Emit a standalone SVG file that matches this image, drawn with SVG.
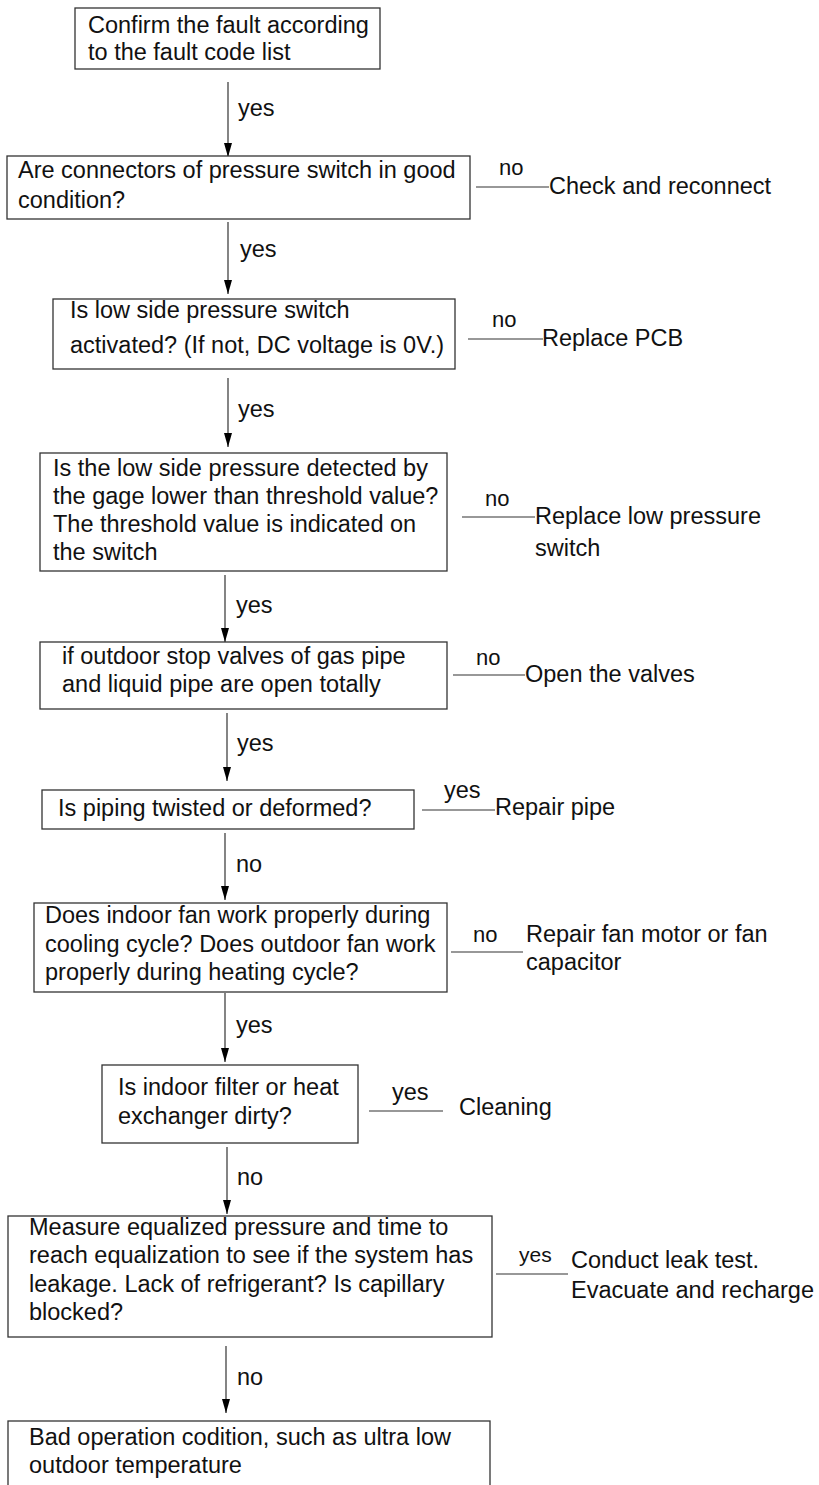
<svg xmlns="http://www.w3.org/2000/svg" width="819" height="1485" viewBox="0 0 819 1485">
<defs>
<marker id="ah" markerUnits="userSpaceOnUse" markerWidth="14" markerHeight="8" refX="14" refY="4" orient="auto">
<path d="M0,0 L14,4 L0,8 z" fill="#000"/>
</marker>
<style>
text{font-family:"Liberation Sans",Arial,sans-serif;font-size:23.5px;fill:#111}
.box{fill:#fff;stroke:#333;stroke-width:1.3}
.flow{stroke:#333;stroke-width:1.2;fill:none;marker-end:url(#ah)}
.side{stroke:#333;stroke-width:1.2;fill:none}
.sl{font-size:22px}
</style>
</defs>
<rect width="819" height="1485" fill="#fff"/>

<g id="connectors">
<line class="flow" x1="228" y1="82" x2="228" y2="157"/>
<text x="238" y="116">yes</text>
<line class="flow" x1="228" y1="222" x2="228" y2="294"/>
<text x="240" y="257">yes</text>
<line class="flow" x1="228" y1="378" x2="228" y2="447"/>
<text x="238" y="417">yes</text>
<line class="flow" x1="225" y1="575" x2="225" y2="642"/>
<text x="236" y="613">yes</text>
<line class="flow" x1="227" y1="713" x2="227" y2="781"/>
<text x="237" y="751">yes</text>
<line class="flow" x1="225" y1="833" x2="225" y2="900"/>
<text x="236" y="872">no</text>
<line class="flow" x1="225" y1="993" x2="225" y2="1062"/>
<text x="236" y="1033">yes</text>
<line class="flow" x1="227" y1="1147" x2="227" y2="1214"/>
<text x="237" y="1185">no</text>
<line class="flow" x1="226" y1="1346" x2="226" y2="1413"/>
<text x="237" y="1385">no</text>

<line class="side" x1="476" y1="187" x2="549" y2="187"/>
<text class="sl" x="499" y="175">no</text>
<line class="side" x1="468" y1="339" x2="543" y2="339"/>
<text class="sl" x="492" y="327">no</text>
<line class="side" x1="462" y1="517" x2="535" y2="517"/>
<text class="sl" x="485" y="506">no</text>
<line class="side" x1="453" y1="675" x2="525" y2="675"/>
<text class="sl" x="476" y="665">no</text>
<line class="side" x1="422" y1="810" x2="495" y2="810"/>
<text x="444" y="798">yes</text>
<line class="side" x1="451" y1="952" x2="523" y2="952"/>
<text class="sl" x="473" y="942">no</text>
<line class="side" x1="369" y1="1111" x2="443" y2="1111"/>
<text x="392" y="1100">yes</text>
<line class="side" x1="496" y1="1274" x2="568" y2="1274"/>
<text x="519" y="1262" style="font-size:21px">yes</text>
</g>

<g id="n1">
<rect class="box" x="75" y="8" width="305" height="61"/>
<text x="88" y="33">Confirm the fault according</text>
<text x="88" y="60">to the fault code list</text>
</g>
<g id="n2">
<rect class="box" x="7" y="156" width="463" height="63"/>
<text x="18" y="178">Are connectors of pressure switch in good</text>
<text x="18" y="208">condition?</text>
</g>
<g id="r2"><text x="549" y="194">Check and reconnect</text></g>
<g id="n3">
<rect class="box" x="53" y="299" width="402" height="70"/>
<text x="70" y="318">Is low side pressure switch</text>
<text x="70" y="353">activated? (If not, DC voltage is 0V.)</text>
</g>
<g id="r3"><text x="542" y="346">Replace PCB</text></g>
<g id="n4">
<rect class="box" x="40" y="453" width="407" height="118"/>
<text x="53" y="476">Is the low side pressure detected by</text>
<text x="53" y="504">the gage lower than threshold value?</text>
<text x="53" y="532">The threshold value is indicated on</text>
<text x="53" y="560">the switch</text>
</g>
<g id="r4">
<text x="535" y="524">Replace low pressure</text>
<text x="535" y="556">switch</text>
</g>
<g id="n5">
<rect class="box" x="40" y="642" width="407" height="67"/>
<text x="62" y="664">if outdoor stop valves of gas pipe</text>
<text x="62" y="692">and liquid pipe are open totally</text>
</g>
<g id="r5"><text x="525" y="682">Open the valves</text></g>
<g id="n6">
<rect class="box" x="42" y="790" width="372" height="39"/>
<text x="58" y="816">Is piping twisted or deformed?</text>
</g>
<g id="r6"><text x="495" y="815">Repair pipe</text></g>
<g id="n7">
<rect class="box" x="34" y="903" width="413" height="89"/>
<text x="45" y="923">Does indoor fan work properly during</text>
<text x="45" y="952">cooling cycle? Does outdoor fan work</text>
<text x="45" y="980">properly during heating cycle?</text>
</g>
<g id="r7">
<text x="526" y="942">Repair fan motor or fan</text>
<text x="526" y="970">capacitor</text>
</g>
<g id="n8">
<rect class="box" x="102" y="1065" width="256" height="78"/>
<text x="118" y="1095">Is indoor filter or heat</text>
<text x="118" y="1124">exchanger dirty?</text>
</g>
<g id="r8"><text x="459" y="1115">Cleaning</text></g>
<g id="n9">
<rect class="box" x="8" y="1216" width="484" height="121"/>
<text x="29" y="1235">Measure equalized pressure and time to</text>
<text x="29" y="1263">reach equalization to see if the system has</text>
<text x="29" y="1292">leakage. Lack of refrigerant? Is capillary</text>
<text x="29" y="1320">blocked?</text>
</g>
<g id="r9">
<text x="571" y="1268">Conduct leak test.</text>
<text x="571" y="1298">Evacuate and recharge</text>
</g>
<g id="n10">
<rect class="box" x="8" y="1421" width="482" height="80"/>
<text x="29" y="1445">Bad operation codition, such as ultra low</text>
<text x="29" y="1473">outdoor temperature</text>
</g>
</svg>
